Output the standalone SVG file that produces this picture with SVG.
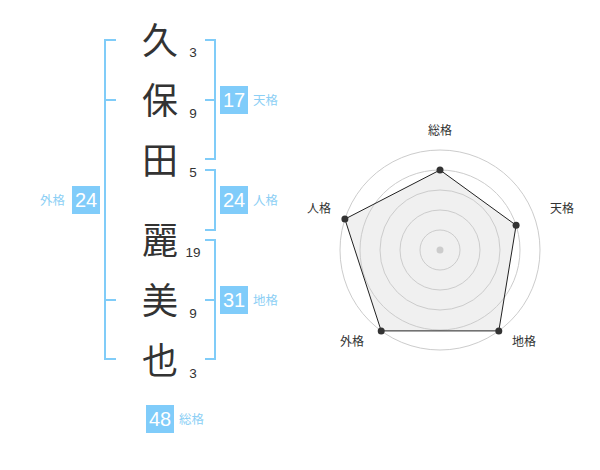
<svg xmlns="http://www.w3.org/2000/svg" width="600" height="470" viewBox="0 0 600 470">
<style>
.k{font-family:"Noto Sans CJK JP","Noto Sans CJK SC",sans-serif;font-size:36px;fill:#333;text-anchor:middle}
.n{font-family:"Liberation Sans",Arial,sans-serif;font-size:13.5px;fill:#333;text-anchor:middle}
.br{fill:none;stroke:#80ccf8;stroke-width:2}
.box{fill:#80ccfa}
.bn{font-family:"Liberation Sans",Arial,sans-serif;font-size:20px;fill:#fff;text-anchor:middle}
.lb{font-family:"Noto Sans CJK JP","Noto Sans CJK SC",sans-serif;font-size:12.5px;fill:#8ccff5}
.rl{font-family:"Noto Sans CJK JP","Noto Sans CJK SC",sans-serif;font-size:12px;fill:#333;text-anchor:middle}
.ring{fill:none;stroke:#ccc;stroke-width:1}
</style>
<g id="chars">
<text class="k" x="160" y="54">久</text>
<text class="k" x="160" y="114">保</text>
<text class="k" x="160" y="174">田</text>
<text class="k" x="160" y="254">麗</text>
<text class="k" x="160" y="314">美</text>
<text class="k" x="160" y="374">也</text>
<text class="n" x="193" y="57">3</text>
<text class="n" x="193" y="118">9</text>
<text class="n" x="193" y="177">5</text>
<text class="n" x="193" y="257">19</text>
<text class="n" x="193" y="318">9</text>
<text class="n" x="193" y="378">3</text>
</g>
<g id="connectors">
<path class="br" d="M205,40 H215 V159 H205 M205,100 H215"/>
<path class="br" d="M205,170 H215 V230 H205"/>
<path class="br" d="M205,240 H215 V359 H205 M205,300 H215"/>
<path class="br" d="M116,40 H105 V359 H116 M105,100 H116 M105,300 H116"/>
</g>
<g id="tenkaku">
<rect class="box" x="220" y="86" width="28" height="28"/>
<text class="bn" x="234" y="107">17</text>
<text class="lb" x="253" y="105">天格</text>
</g>
<g id="jinkaku">
<rect class="box" x="220" y="186" width="28" height="28"/>
<text class="bn" x="234" y="207">24</text>
<text class="lb" x="253" y="205">人格</text>
</g>
<g id="chikaku">
<rect class="box" x="220" y="286" width="28" height="28"/>
<text class="bn" x="234" y="307">31</text>
<text class="lb" x="253" y="305">地格</text>
</g>
<g id="gaikaku">
<rect class="box" x="72" y="186" width="28" height="28"/>
<text class="bn" x="86" y="207">24</text>
<text class="lb" x="40" y="205">外格</text>
</g>
<g id="soukaku">
<rect class="box" x="146" y="405" width="28" height="28"/>
<text class="bn" x="160" y="426">48</text>
<text class="lb" x="179" y="424">総格</text>
</g>
<g id="radar">
<polygon points="440,170 516.1,225.3 498.8,330.9 381.2,330.9 344.9,219.1" fill="#f0f0f0"/>
<circle class="ring" cx="440" cy="250" r="20"/>
<circle class="ring" cx="440" cy="250" r="40"/>
<circle class="ring" cx="440" cy="250" r="60"/>
<circle class="ring" cx="440" cy="250" r="80"/>
<circle class="ring" cx="440" cy="250" r="100"/>
<circle cx="440" cy="250" r="3.5" fill="#ccc"/>
<polygon points="440,170 516.1,225.3 498.8,330.9 381.2,330.9 344.9,219.1" fill="none" stroke="#222" stroke-width="1"/>
<g fill="#333">
<circle cx="440" cy="170" r="3.5"/>
<circle cx="516.1" cy="225.3" r="3.5"/>
<circle cx="498.8" cy="330.9" r="3.5"/>
<circle cx="381.2" cy="330.9" r="3.5"/>
<circle cx="344.9" cy="219.1" r="3.5"/>
</g>
<text class="rl" x="440" y="135">総格</text>
<text class="rl" x="562" y="213">天格</text>
<text class="rl" x="524" y="346">地格</text>
<text class="rl" x="352" y="346">外格</text>
<text class="rl" x="319" y="213">人格</text>
</g>
</svg>
